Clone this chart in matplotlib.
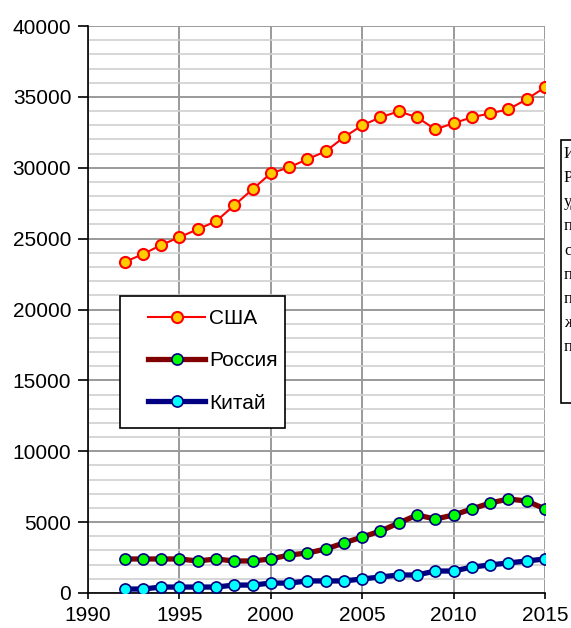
import matplotlib.pyplot as plt
from matplotlib.patches import Rectangle
from matplotlib.ticker import MultipleLocator

years = list(range(1992, 2016))
usa = [23350, 23900, 24550, 25100, 25660, 26220, 27350, 28480, 29610, 30030,
       30600, 31160, 32150, 32990, 33560, 33980, 33560, 32710, 33140, 33560,
       33840, 34120, 34830, 35680]
russia = [2400, 2400, 2400, 2400, 2260, 2400, 2260, 2260, 2400, 2680,
          2820, 3100, 3530, 3950, 4370, 4940, 5500, 5220, 5500, 5930,
          6350, 6630, 6490, 5930]
china = [280, 280, 420, 420, 420, 420, 560, 560, 700, 700,
         850, 850, 850, 990, 1130, 1270, 1270, 1550, 1550, 1830,
         1980, 2120, 2260, 2400]

x_ticks = [1990, 1995, 2000, 2005, 2010, 2015]
y_ticks = list(range(0, 40001, 5000))

# cut-off note on the right edge of the original picture
note_lines = ['Источник:', 'Расчёт', 'удельных', 'показателей', 'социально-',
              'производство', 'по данным', 'жилищного', 'пересчёта']

plt.rcParams['font.family'] = ['Liberation Sans', 'DejaVu Sans']

fig = plt.figure(figsize=(5.71, 6.28), dpi=100, facecolor='white')
ax = fig.add_axes([88 / 571, 35 / 628, 457 / 571, 567 / 628])

ax.set_xlim(1990, 2015)
ax.set_ylim(0, 40000)
ax.set_xticks(x_ticks)
ax.set_yticks(y_ticks)
ax.yaxis.set_minor_locator(MultipleLocator(1000))
ax.grid(which='major', color='#9a9a9a', linewidth=1.4, zorder=0)
ax.grid(which='minor', axis='y', color='#d0d0d0', linewidth=1.2, zorder=0)
ax.set_axisbelow(True)

for side in ['top', 'right']:
    ax.spines[side].set_visible(False)
for side in ['left', 'bottom']:
    ax.spines[side].set_color('black')
    ax.spines[side].set_linewidth(1.2)

ax.tick_params(axis='both', which='major', direction='out', width=1.2,
               labelsize=15, color='black')
ax.tick_params(axis='y', which='major', length=7, pad=5)
ax.tick_params(axis='x', which='major', length=4.5, pad=5)
ax.tick_params(axis='y', which='minor', length=0)

ax.plot(years, usa, color='red', linewidth=1.5, marker='o', markersize=8,
        markerfacecolor='#ffcc00', markeredgecolor='red', markeredgewidth=1.5,
        label='США', zorder=3)
ax.plot(years, russia, color='#800000', linewidth=3.8, marker='o', markersize=8,
        markerfacecolor='#00ff00', markeredgecolor='#000080', markeredgewidth=1.2,
        label='Россия', zorder=3)
ax.plot(years, china, color='#000080', linewidth=3.8, marker='o', markersize=8,
        markerfacecolor='#00ffff', markeredgecolor='#000080', markeredgewidth=1.2,
        label='Китай', zorder=3)

# legend frame drawn separately (wider left margin than legend padding allows)
ax.add_patch(Rectangle((32 / 457, 165 / 567), 165 / 457, 132 / 567,
                       transform=ax.transAxes, facecolor='white',
                       edgecolor='black', linewidth=1.2, zorder=5,
                       clip_on=False))
leg = ax.legend(loc='upper left', bbox_to_anchor=(60 / 457, 284 / 567),
                fontsize=15, frameon=False, borderpad=0, labelspacing=1.12,
                handlelength=2.75, handletextpad=0.2, borderaxespad=0)
leg.set_zorder(6)

# note box, mostly outside the figure
fig.patches.append(Rectangle((561 / 571, 1 - 403 / 628), 0.2, 263 / 628,
                             transform=fig.transFigure, facecolor='white',
                             edgecolor='black', linewidth=1.2))
fig.text(564 / 571, 1 - 146 / 628, '\n'.join(note_lines),
         family='Liberation Serif', fontsize=12, va='top', ha='left',
         linespacing=1.68)

fig.savefig('out.png', dpi=100, facecolor='white')
